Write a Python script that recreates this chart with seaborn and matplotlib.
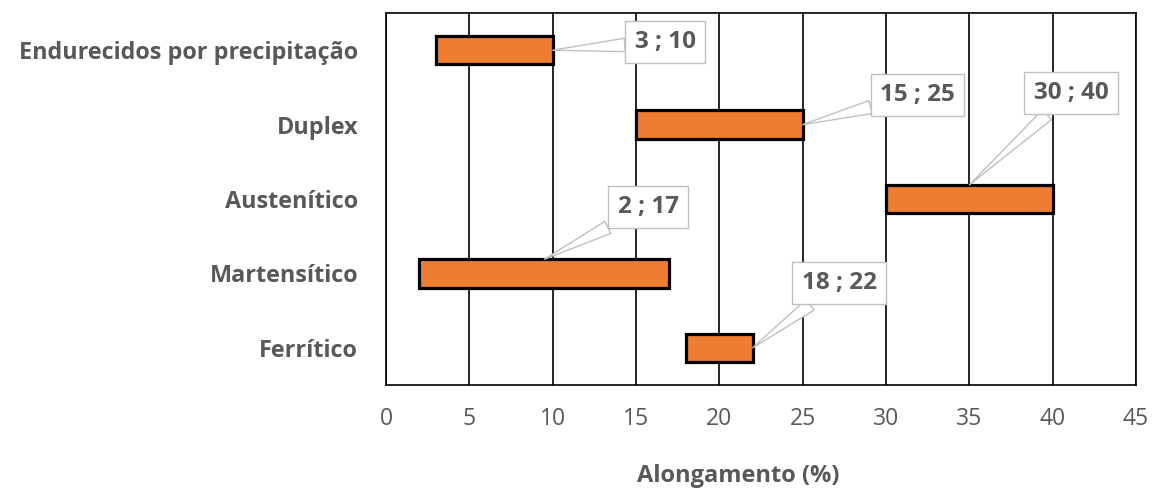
import matplotlib
matplotlib.use("Agg")
import matplotlib.pyplot as plt
import seaborn as sns
import pandas as pd

# ---- data ----
categories = ["Endurecidos por precipitação", "Duplex", "Austenítico", "Martensítico", "Ferrítico"]
start_vals = [3, 15, 30, 2, 18]
end_vals = [10, 25, 40, 17, 22]
x_ticks = [0, 5, 10, 15, 20, 25, 30, 35, 40, 45]
x_label = "Alongamento (%)"

sns.set_style("white")
plt.rcParams["font.family"] = ["Open Sans", "DejaVu Sans"]

GRAY = "#595959"
ORANGE = "#ED7D31"

df = pd.DataFrame({
    "cat": categories,
    "length": [e - s for s, e in zip(start_vals, end_vals)],
    "start": start_vals,
    "end": end_vals,
})

fig = plt.figure(figsize=(11.63, 4.95), dpi=100)
ax = fig.add_axes([0.3319, 0.2222, 0.6449, 0.7515])

sns.barplot(data=df, x="length", y="cat", orient="h", color=ORANGE, saturation=1,
            edgecolor="black", linewidth=2.3, width=0.38, ax=ax, zorder=3)

# shift floating bars to their start values
for p, s in zip(ax.patches, df["start"]):
    p.set_x(s)

ax.set_xlim(0, 45)
ax.set_ylim(4.5, -0.5)
ax.set_xticks(x_ticks)
ax.set_xticklabels([str(t) for t in x_ticks], fontsize=16.5, color=GRAY)
ax.tick_params(axis="x", length=0, pad=16)
ax.tick_params(axis="y", length=0, pad=20)
for lab in ax.get_yticklabels():
    lab.set_fontsize(16.8)
    lab.set_fontweight("bold")
    lab.set_color(GRAY)

ax.set_ylabel("")
ax.set_xlabel(x_label, fontsize=17, fontweight="bold", color=GRAY, va="center")
ax.xaxis.set_label_coords(0.469, -0.245)

ax.grid(axis="x", color="black", linewidth=1.2)
ax.grid(axis="y", visible=False)
ax.set_axisbelow(True)
for sp in ax.spines.values():
    sp.set_color("black")
    sp.set_linewidth(1.2)

# ---- callout labels ----
label_pos = [(16.74, -0.11), (31.9, 0.60), (41.1, 0.575), (15.72, 2.11), (27.18, 3.13)]
anchor_pos = [(10, 0), (25, 1), (35, 1.81), (9.5, 2.81), (22, 4)]
for s, e, (tx, ty), (axx, ayy) in zip(start_vals, end_vals, label_pos, anchor_pos):
    ax.annotate(f"{s} ; {e}", xy=(axx, ayy), xytext=(tx, ty),
                ha="center", va="center", fontsize=17.5, fontweight="bold", color=GRAY,
                bbox=dict(boxstyle="square,pad=0.38", fc="white", ec="#c0c0c0", lw=1.0),
                arrowprops=dict(arrowstyle="wedge,tail_width=0.55,shrink_factor=0.5",
                                fc="white", ec="#c0c0c0", lw=1.0,
                                shrinkA=0, shrinkB=0),
                zorder=5, annotation_clip=False)

fig.savefig("out.png", dpi=100)
